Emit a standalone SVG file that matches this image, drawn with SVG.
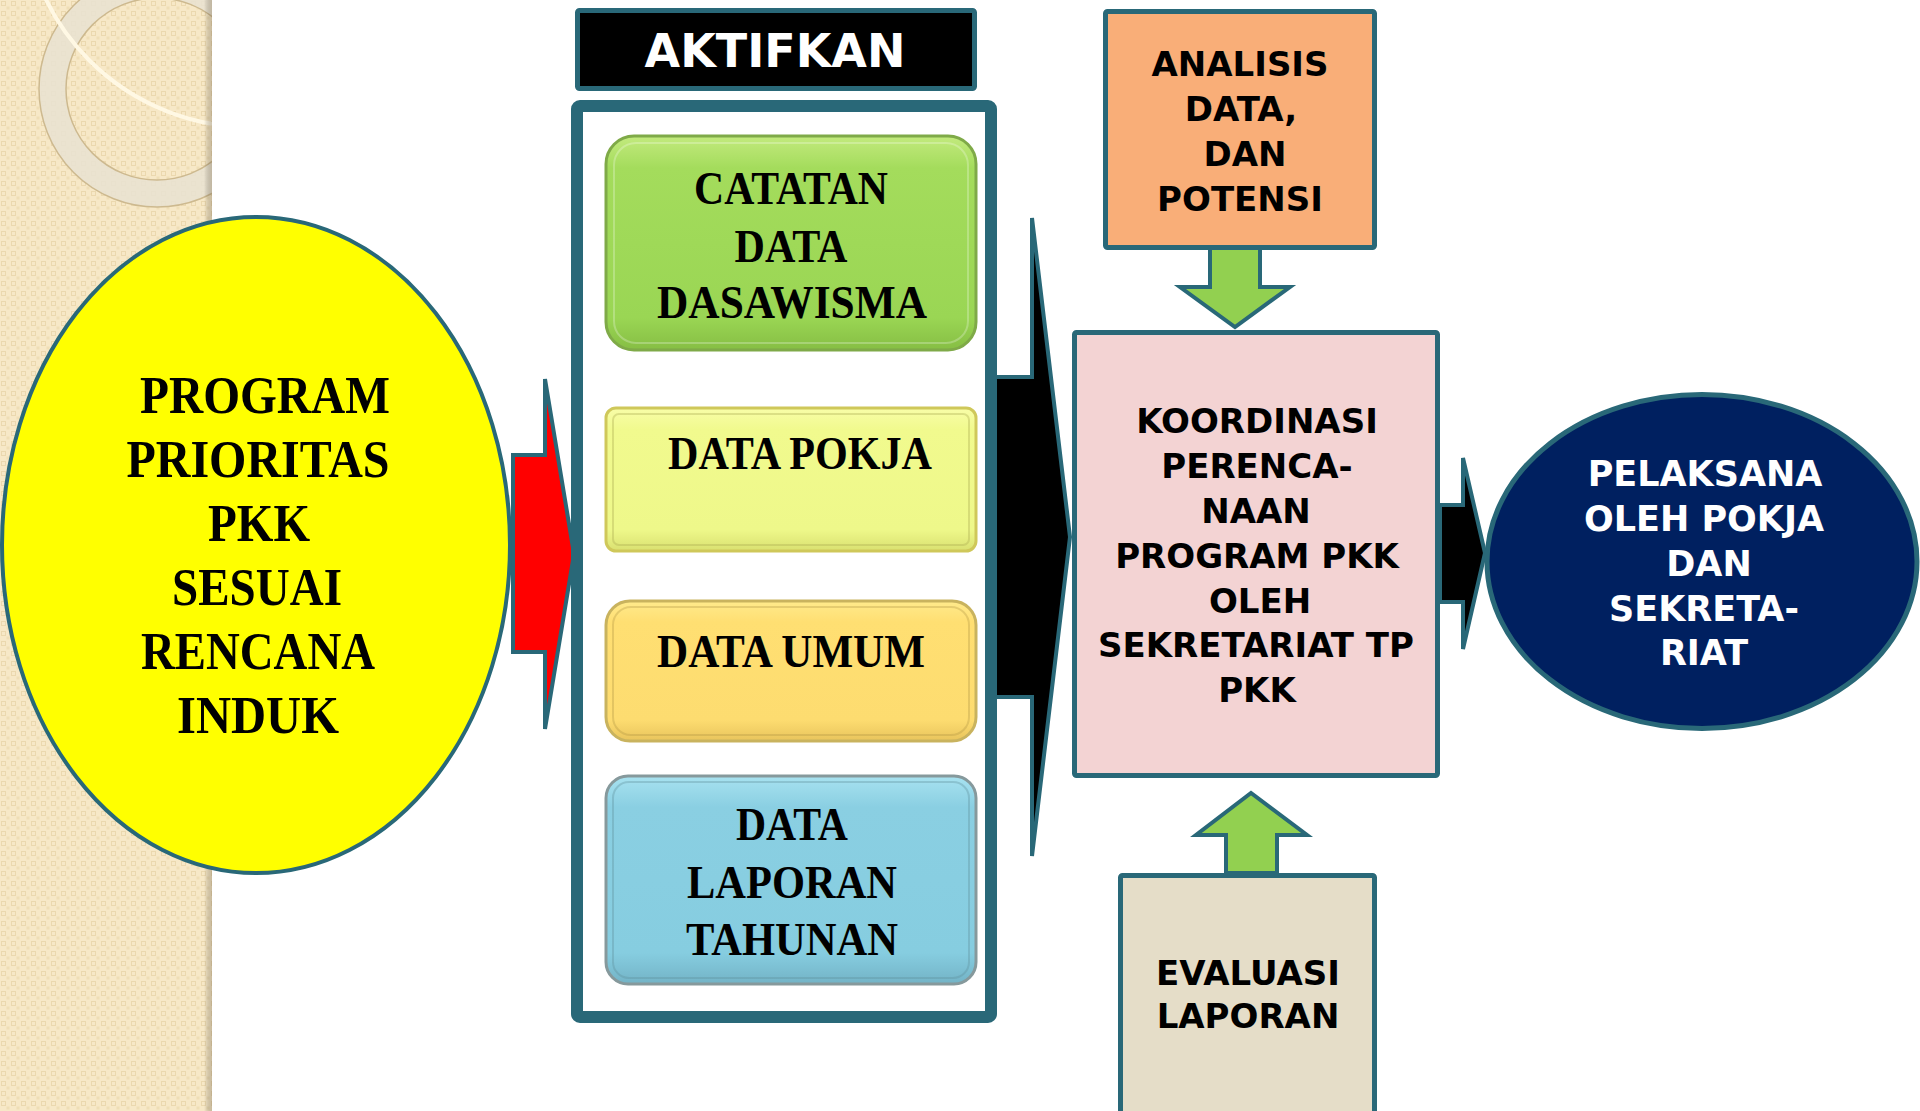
<svg xmlns="http://www.w3.org/2000/svg" width="1920" height="1111" viewBox="0 0 1920 1111">
<defs>
<style>
.teal{stroke:#296878;stroke-linejoin:miter}
.serif{font-family:"Liberation Serif","Times New Roman",serif;font-weight:bold;fill:#000;text-anchor:middle}
.sans{font-family:"DejaVu Sans",Verdana,sans-serif;font-weight:bold;fill:#000;text-anchor:middle}
.white{fill:#fff}
</style>
<pattern id="chk" width="10" height="10" patternUnits="userSpaceOnUse">
<rect width="10" height="10" fill="#F7E8C7"/>
<rect x="1.5" y="1.5" width="4" height="4" fill="none" stroke="#EBD8AE" stroke-width="1"/>
<rect x="6.5" y="6.5" width="3" height="3" fill="#EFDEB6"/>
</pattern>
<linearGradient id="shadow" x1="0" y1="0" x2="1" y2="0">
<stop offset="0" stop-color="#000" stop-opacity="0"/>
<stop offset="1" stop-color="#7a6a50" stop-opacity="0.35"/>
</linearGradient>
<clipPath id="panelClip"><rect x="0" y="0" width="212" height="1111"/></clipPath>
<linearGradient id="gGreen" x1="0" y1="0" x2="0" y2="1">
<stop offset="0" stop-color="#C3EA7E"/>
<stop offset="0.15" stop-color="#A4DC5C"/>
<stop offset="0.85" stop-color="#9AD654"/>
<stop offset="1" stop-color="#86BE44"/>
</linearGradient>
<linearGradient id="gPokja" x1="0" y1="0" x2="0" y2="1">
<stop offset="0" stop-color="#F8FDA8"/>
<stop offset="0.15" stop-color="#F1FA8E"/>
<stop offset="0.85" stop-color="#EEF88A"/>
<stop offset="1" stop-color="#D9E070"/>
</linearGradient>
<linearGradient id="gUmum" x1="0" y1="0" x2="0" y2="1">
<stop offset="0" stop-color="#FFEA8C"/>
<stop offset="0.15" stop-color="#FFDF72"/>
<stop offset="0.85" stop-color="#FDDC70"/>
<stop offset="1" stop-color="#E8C45C"/>
</linearGradient>
<linearGradient id="gBlue" x1="0" y1="0" x2="0" y2="1">
<stop offset="0" stop-color="#A8E2F0"/>
<stop offset="0.15" stop-color="#8ACFE2"/>
<stop offset="0.85" stop-color="#86CDE0"/>
<stop offset="1" stop-color="#73B3C6"/>
</linearGradient>
</defs>

<rect width="1920" height="1111" fill="#fff"/>

<g id="background-panel">
<rect x="0" y="0" width="212" height="1111" fill="url(#chk)"/>
<g clip-path="url(#panelClip)">
<circle cx="157" cy="89" r="104.5" fill="none" stroke="#E9E2D0" stroke-opacity="0.9" stroke-width="27"/>
<circle cx="157" cy="89" r="118" fill="none" stroke="#CDB98F" stroke-width="1.5"/>
<circle cx="157" cy="89" r="91" fill="none" stroke="#CDB98F" stroke-width="1.5"/>
<circle cx="250" cy="-100" r="227" fill="none" stroke="#FFF8E4" stroke-width="4"/>
</g>
<rect x="204" y="0" width="8" height="1111" fill="url(#shadow)"/>
</g>

<g id="connectors">
<path id="arrow-red" class="teal" d="M513,455 L545,455 L545,379 L574,554 L545,729 L545,652 L513,652 Z" fill="#FF0000" stroke-width="4"/>
<path id="arrow-black-big" class="teal" d="M995,377 L1032,377 L1032,218 L1070,537 L1032,856 L1032,697 L995,697 Z" fill="#000" stroke-width="4"/>
<path id="arrow-black-small" class="teal" d="M1440,505 L1463,505 L1463,458 L1485,553 L1463,649 L1463,602 L1440,602 Z" fill="#000" stroke-width="4"/>
<path id="arrow-green-down" class="teal" d="M1210,248 L1260,248 L1260,287 L1290,287 L1235,327 L1180,287 L1210,287 Z" fill="#92D050" stroke-width="4"/>
<path id="arrow-green-up" class="teal" d="M1226,873 L1226,835 L1196,835 L1251,793 L1307,835 L1277,835 L1277,873 Z" fill="#92D050" stroke-width="4"/>
</g>

<g id="node-program">
<ellipse cx="256" cy="545" rx="254" ry="328" fill="#FFFF00" class="teal" stroke-width="4"/>
<text class="serif" font-size="53" x="265" y="413" textLength="250" lengthAdjust="spacingAndGlyphs">PROGRAM</text>
<text class="serif" font-size="53" x="258" y="477" textLength="263" lengthAdjust="spacingAndGlyphs">PRIORITAS</text>
<text class="serif" font-size="53" x="259" y="541" textLength="102" lengthAdjust="spacingAndGlyphs">PKK</text>
<text class="serif" font-size="53" x="257" y="605" textLength="170" lengthAdjust="spacingAndGlyphs">SESUAI</text>
<text class="serif" font-size="53" x="258" y="669" textLength="234" lengthAdjust="spacingAndGlyphs">RENCANA</text>
<text class="serif" font-size="53" x="258" y="733" textLength="162" lengthAdjust="spacingAndGlyphs">INDUK</text>
</g>

<g id="node-aktifkan">
<rect x="577.5" y="10.5" width="397" height="78" rx="2" fill="#000" class="teal" stroke-width="5"/>
<text class="sans white" font-size="46" x="775" y="67">AKTIFKAN</text>
</g>

<g id="node-container">
<rect x="577" y="106" width="414" height="911" rx="3" fill="#fff" class="teal" stroke-width="12"/>
</g>

<g id="node-catatan">
<rect x="606" y="136" width="370" height="214" rx="28" fill="url(#gGreen)" stroke="#7FAA48" stroke-width="3"/>
<rect x="614" y="143" width="354" height="200" rx="22" fill="none" stroke="#fff" stroke-opacity="0.25" stroke-width="2"/>
<text class="serif" font-size="47" x="791" y="204" textLength="194" lengthAdjust="spacingAndGlyphs">CATATAN</text>
<text class="serif" font-size="47" x="791" y="262" textLength="113" lengthAdjust="spacingAndGlyphs">DATA</text>
<text class="serif" font-size="47" x="792" y="318" textLength="270" lengthAdjust="spacingAndGlyphs">DASAWISMA</text>
</g>

<g id="node-pokja">
<rect x="606" y="408" width="370" height="143" rx="10" fill="url(#gPokja)" stroke="#CFC85A" stroke-width="3"/>
<rect x="613" y="414" width="356" height="131" rx="6" fill="none" stroke="#A8A850" stroke-opacity="0.35" stroke-width="2"/>
<text class="serif" font-size="47" x="800" y="469" textLength="264" lengthAdjust="spacingAndGlyphs">DATA POKJA</text>
</g>

<g id="node-umum">
<rect x="606" y="601" width="370" height="140" rx="24" fill="url(#gUmum)" stroke="#C9B35E" stroke-width="3"/>
<rect x="613" y="607" width="356" height="128" rx="18" fill="none" stroke="#A8903E" stroke-opacity="0.3" stroke-width="2"/>
<text class="serif" font-size="47" x="791" y="667" textLength="268" lengthAdjust="spacingAndGlyphs">DATA UMUM</text>
</g>

<g id="node-laporan">
<rect x="606" y="776" width="370" height="208" rx="22" fill="url(#gBlue)" stroke="#86999C" stroke-width="3"/>
<rect x="613" y="782" width="356" height="196" rx="16" fill="none" stroke="#5E8E9C" stroke-opacity="0.35" stroke-width="2"/>
<text class="serif" font-size="47" x="792" y="840" textLength="112" lengthAdjust="spacingAndGlyphs">DATA</text>
<text class="serif" font-size="47" x="792" y="898" textLength="210" lengthAdjust="spacingAndGlyphs">LAPORAN</text>
<text class="serif" font-size="47" x="792" y="955" textLength="212" lengthAdjust="spacingAndGlyphs">TAHUNAN</text>
</g>

<g id="node-analisis">
<rect x="1105.5" y="11.5" width="269" height="236" rx="2" fill="#F9AE78" class="teal" stroke-width="5"/>
<text class="sans" font-size="34"><tspan x="1240" y="76">ANALISIS</tspan><tspan x="1241" y="121">DATA,</tspan><tspan x="1245" y="166">DAN</tspan><tspan x="1240" y="211">POTENSI</tspan></text>
</g>

<g id="node-koordinasi">
<rect x="1074.5" y="332.5" width="363" height="443" rx="2" fill="#F3D3D3" class="teal" stroke-width="5"/>
<text class="sans" font-size="34"><tspan x="1257" y="433">KOORDINASI</tspan><tspan x="1257" y="478">PERENCA-</tspan><tspan x="1256" y="523">NAAN</tspan><tspan x="1257" y="568">PROGRAM PKK</tspan><tspan x="1260" y="613">OLEH</tspan><tspan x="1256" y="657">SEKRETARIAT TP</tspan><tspan x="1257" y="702">PKK</tspan></text>
</g>

<g id="node-evaluasi">
<rect x="1120.5" y="875.5" width="254" height="260" rx="2" fill="#E5DDC8" class="teal" stroke-width="5"/>
<text class="sans" font-size="34"><tspan x="1248" y="985">EVALUASI</tspan><tspan x="1248" y="1028">LAPORAN</tspan></text>
</g>

<g id="node-pelaksana">
<ellipse cx="1702" cy="561.5" rx="215" ry="167" fill="#002060" class="teal" stroke-width="5"/>
<text class="sans white" font-size="35"><tspan x="1705" y="486">PELAKSANA</tspan><tspan x="1704" y="531">OLEH POKJA</tspan><tspan x="1709" y="576">DAN</tspan><tspan x="1704" y="621">SEKRETA-</tspan><tspan x="1704" y="665">RIAT</tspan></text>
</g>
</svg>
